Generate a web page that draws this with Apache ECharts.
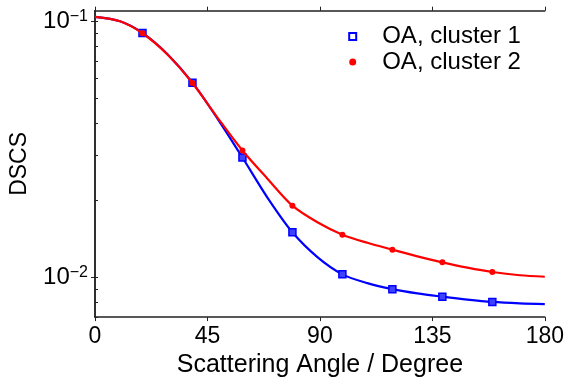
<!DOCTYPE html>
<html><head><meta charset="utf-8">
<script src="https://cdn.jsdelivr.net/npm/echarts@6/dist/echarts.min.js"></script>
<style>html,body{margin:0;padding:0;background:#fff}#c{width:567px;height:383px}</style>
</head><body><div id="c"></div>
<script>
const angles = [19, 39, 59, 79, 99, 119, 139, 159];
const cluster1 = [0.0901, 0.0576, 0.0294, 0.0150, 0.01028, 0.00900, 0.00841, 0.00802];
const cluster2 = [0.0898, 0.0574, 0.0313, 0.01906, 0.01469, 0.01283, 0.01145, 0.01050];
const curveAngles = [0, 10, 19, 29, 39, 49, 59, 69, 79, 89, 99, 109, 119, 129, 139, 149, 159, 170, 180];
const curve1 = [0.1040, 0.1000, 0.0901, 0.0744, 0.0576, 0.0417, 0.0294, 0.0205, 0.0150, 0.0120, 0.01028, 0.0095, 0.00900, 0.00866, 0.00841, 0.00819, 0.00802, 0.00792, 0.00787];
const curve2 = [0.1040, 0.1000, 0.0898, 0.0742, 0.0574, 0.0421, 0.0313, 0.0243, 0.01906, 0.01642, 0.01469, 0.01365, 0.01283, 0.01208, 0.01145, 0.01092, 0.01050, 0.01020, 0.01006];
const xTicks = [0, 45, 90, 135, 180];
const yMajor = [0.01, 0.1];
const yMinor = [0.007, 0.008, 0.009, 0.02, 0.03, 0.04, 0.05, 0.06, 0.07, 0.08, 0.09];
const seriesNames = ['OA, cluster 1', 'OA, cluster 2'];

const FONT = 'Liberation Sans';
const pair = (xs, ys) => xs.map((x, i) => [x, ys[i]]);
const line = {show: true, lineStyle: {color: '#222', width: 1.5}};
const chart = echarts.init(document.getElementById('c'), null, {renderer: 'canvas'});
chart.setOption({
  animation: false,
  backgroundColor: '#fff',
  textStyle: {fontFamily: FONT},
  grid: {left: 95, right: 22, top: 10.7, bottom: 65},
  legend: {
    orient: 'vertical', left: 343.2, top: 19.5, itemWidth: 7, itemHeight: 7, itemGap: 1.6,
    textStyle: {fontFamily: FONT, fontSize: 24, color: '#000', padding: [0, 0, 0, 21]},
    data: [
      {name: seriesNames[0], icon: 'rect', itemStyle: {color: '#fff', borderColor: '#0000ff', borderWidth: 2}},
      {name: seriesNames[1], icon: 'circle', itemStyle: {color: '#ff0000', borderWidth: 0}}
    ]
  },
  xAxis: [
    {type: 'value', min: 0, max: 180, interval: 45, position: 'bottom',
     name: 'Scattering Angle / Degree', nameLocation: 'middle', nameGap: 25,
     nameTextStyle: {fontFamily: FONT, fontSize: 25, color: '#000'},
     axisLine: line, axisTick: {show: true, length: 4, lineStyle: {color: '#222', width: 1}},
     axisLabel: {customValues: xTicks, fontFamily: FONT, fontSize: 23, color: '#000', margin: 8},
     splitLine: {show: false}},
    {type: 'value', min: 0, max: 180, interval: 45, position: 'top',
     axisLine: line, axisTick: {show: true, length: 4, lineStyle: {color: '#222', width: 1}},
     axisLabel: {show: false}, splitLine: {show: false}}
  ],
  yAxis: [
    {type: 'log', min: 0.007, max: 0.11, position: 'left',
     name: 'DSCS', nameLocation: 'middle', nameGap: 64, nameRotate: 90,
     nameTextStyle: {fontFamily: FONT, fontSize: 23, color: '#000'},
     axisLine: line,
     axisTick: {show: true, customValues: yMajor, length: 4, lineStyle: {color: '#222', width: 1}},
     axisLabel: {customValues: yMajor, margin: 7,
       formatter: v => '{b|10}{s|\u2212' + (-Math.round(Math.log10(v))) + '}',
       rich: {b: {fontFamily: FONT, fontSize: 24, color: '#000'},
              s: {fontFamily: FONT, fontSize: 16, color: '#000', verticalAlign: 'top', padding: [0, 0, 10, 0]}}},
     splitLine: {show: false}},
    {type: 'log', min: 0.007, max: 0.11, position: 'right',
     axisLine: line,
     axisTick: {show: true, customValues: yMajor.concat(yMinor), length: 3, lineStyle: {color: '#222', width: 1}},
     axisLabel: {show: false}, splitLine: {show: false}},
    {type: 'log', min: 0.007, max: 0.11, position: 'left',
     axisLine: {show: false},
     axisTick: {show: true, inside: true, customValues: yMinor, length: 2.5, lineStyle: {color: '#222', width: 1}},
     axisLabel: {show: false}, splitLine: {show: false}}
  ],
  series: [
    {name: 'fit1', type: 'line', data: pair(curveAngles, curve1), smooth: 0.3, showSymbol: false, symbol: 'none',
     lineStyle: {color: '#0000ff', width: 2.2}, z: 2, silent: true},
    {name: seriesNames[0], type: 'scatter', data: pair(angles, cluster1), symbol: 'rect', symbolSize: 7,
     itemStyle: {color: '#4040ff', borderColor: '#0000ff', borderWidth: 1.5, opacity: 1}, z: 3},
    {name: 'fit2', type: 'line', data: pair(curveAngles, curve2), smooth: 0.3, showSymbol: false, symbol: 'none',
     lineStyle: {color: '#ff0000', width: 2.2}, z: 4, silent: true},
    {name: seriesNames[1], type: 'scatter', data: pair(angles, cluster2), symbol: 'circle', symbolSize: 6,
     itemStyle: {color: '#ff0000', opacity: 1}, z: 5}
  ]
});
</script></body></html>
